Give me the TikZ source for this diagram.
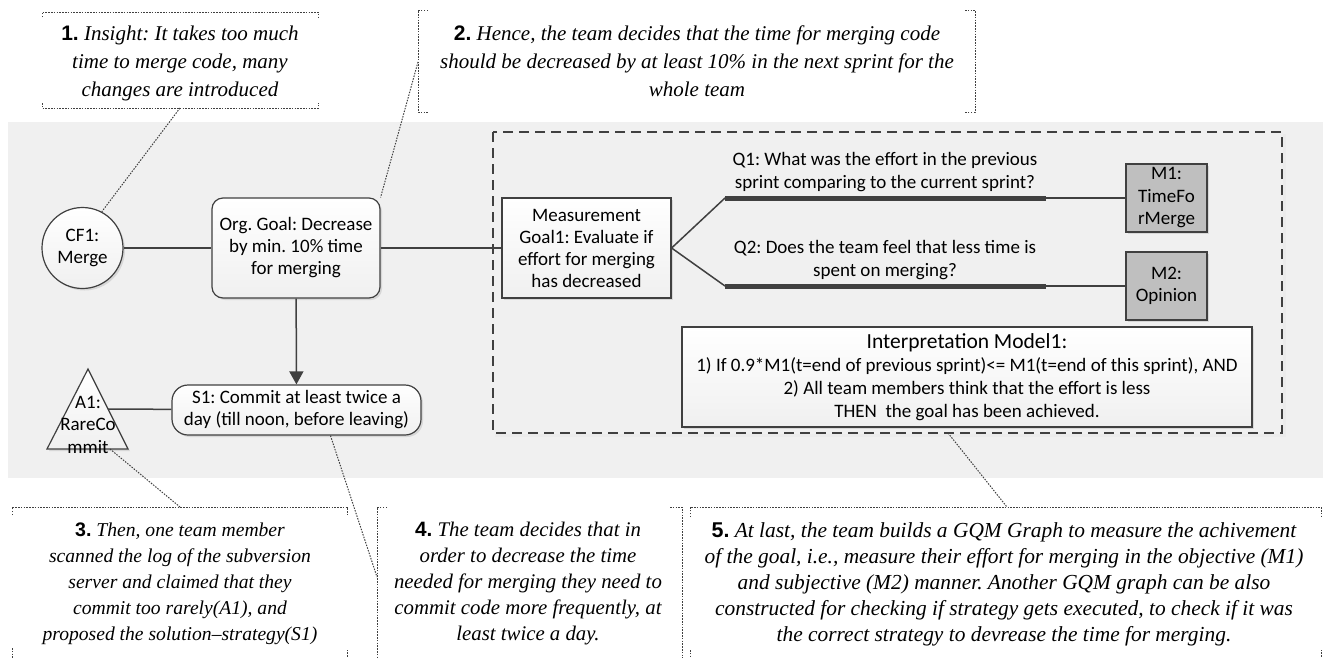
\documentclass[tikz,border=0pt]{standalone}
\usepackage{fontspec}
\setmainfont{Carlito}
\newfontfamily\tnr{Liberation Serif}
\newfontfamily\numf{Liberation Sans}
\usetikzlibrary{arrows.meta,shadows}
\frenchspacing
\definecolor{ln}{RGB}{64,64,64}
\definecolor{panel}{RGB}{240,240,240}
\definecolor{mfill}{RGB}{191,191,191}
\newcommand{\nb}[1]{{\upshape\numf\bfseries #1.}\ }
\tikzset{
  shd/.style={drop shadow={shadow xshift=2pt,shadow yshift=-2pt,opacity=0.22}},
  nbox/.style={draw=ln, line width=1.2pt, top color=white, bottom color=black!6, shd,
    align=center, inner sep=0pt, font=\fontsize{19}{22}\selectfont},
  mbox/.style={draw=ln, line width=1.2pt, fill=mfill, shd, align=center, inner sep=0pt,
    minimum width=81pt, minimum height=68pt, font=\fontsize{19}{22.5}\selectfont},
  conn/.style={draw=ln, line width=1.5pt},
  bar/.style={draw=ln, line width=5pt},
  note/.style={draw=ln, line width=1pt, dash pattern=on 1.5pt off 1.3pt},
  ntext/.style={align=center, inner sep=0pt, font=\tnr\itshape\fontsize{21}{28}\selectfont},
  btext/.style={align=center, inner sep=0pt, font=\tnr\itshape\fontsize{#1}{26}\selectfont},
  qtext/.style={align=center, inner sep=0pt, font=\fontsize{19}{23}\selectfont}
}
\begin{document}
\begin{tikzpicture}[x=1pt,y=-1pt]
\useasboundingbox (0,0) rectangle (1323,657);
\clip (0,0) rectangle (1323,657);
\fill[white] (0,0) rectangle (1323,657);
% grey panel
\fill[panel] (8,122) rectangle (1323,478);
% dashed measurement frame
\draw[black!8, line width=3pt] (495,435) -- (1284,435) -- (1284,134);
\draw[ln, line width=1.5pt, dash pattern=on 10pt off 6pt] (493,132) rectangle (1282,433);

% nodes
\node[nbox, circle, minimum size=81pt] (CF1) at (82.5,248) {CF1:\\Merge};
\node[nbox, rounded corners=11pt, minimum width=168pt, minimum height=100pt] (OG) at (296,248)
  {Org. Goal: Decrease\\by min. 10\% time\\for merging};
\node[nbox, rounded corners=16pt, minimum width=249pt, minimum height=50pt] (S1) at (296.5,410)
  {S1: Commit at least twice a\\day (till noon, before leaving)};
\draw[ln, line width=1.2pt, top color=white, bottom color=black!6, shd]
  (88,369) -- (128,449) -- (47,449) -- cycle;
\node[align=center, inner sep=0pt, font=\fontsize{19}{22.5}\selectfont] (A1) at (88,424.5) {A1:\\RareCo\\mmit};
\coordinate (A1r) at (108,409);
\coordinate (A1b) at (110,449);

\node[nbox, minimum width=169pt, minimum height=100pt] (MG) at (586.5,248)
  {Measurement\\Goal1: Evaluate if\\effort for merging\\has decreased};
\node[qtext] (Q1) at (885,172) {Q1: What was the effort in the previous\\sprint comparing to the current sprint?};
\node[qtext] (Q2) at (885,260) {Q2: Does the team feel that less time is\\spent on merging?};
\coordinate (q1a) at (725,198);
\coordinate (q1b) at (1046,198);
\coordinate (q2a) at (725,286);
\coordinate (q2b) at (1046,286);
\node[mbox] (M1) at (1166.5,198) {M1:\\TimeFo\\rMerge};
\node[mbox] (M2) at (1166.5,286) {M2:\\Opinion};
\node[nbox, minimum width=570pt, minimum height=100pt, font=\fontsize{19}{23}\selectfont] (IM) at (967,377)
  {{\fontsize{21.5}{23}\selectfont Interpretation Model1:}\\
   1) If 0.9*M1(t=end of previous sprint)<= M1(t=end of this sprint), AND\\
   2) All team members think that the effort is less\\
   THEN\ \ the goal has been achieved.};

% connectors
\draw[conn] (CF1) -- (OG);
\draw[conn] (OG) -- (MG);
\draw[conn, -{Triangle[length=13pt,width=14pt]}] (OG) -- (S1);
\draw[conn] (S1) -- (A1r);
\draw[conn] (MG.east) -- (q1a);
\draw[conn] (MG.east) -- (q2a);
\draw[bar] (q1a) -- (q1b);
\draw[bar] (q2a) -- (q2b);
\draw[ln, line width=1.2pt] (q1b) -- (M1);
\draw[ln, line width=1.2pt] (q2b) -- (M2);

% annotation texts
\node[ntext] (N1) at (180,63) {\nb{1}Insight: It takes too much\\time to merge code, many\\changes are introduced};
\node[ntext] (N2) at (697,61) {\nb{2}Hence, the team decides that the time for merging code\\should be decreased by at least 10\% in the next sprint for the\\whole team};
\node[btext=19.6] (N3) at (180,584) {\nb{3}Then, one team member\\scanned the log of the subversion\\server and claimed that they\\commit too rarely(A1), and\\proposed the solution–strategy(S1)};
\node[btext=20.8] (N4) at (528,584) {\nb{4}The team decides that in\\order to decrease the time\\needed for merging they need to\\commit code more frequently, at\\least twice a day.};
\node[btext=21.4] (N5) at (1004,584) {\nb{5}At last, the team builds a GQM Graph to measure the achivement\\of the goal, i.e., measure their effort for merging in the objective (M1)\\and subjective (M2) manner. Another GQM graph can be also\\constructed for checking if strategy gets executed, to check if it was\\the correct strategy to devrease the time for merging.};

% brackets
\draw[note] (42,17) -- (42,12) -- (318,12) -- (318,17);
\draw[note] (42,103) -- (42,108) -- (318,108) -- (318,103);
\draw[note] (428,10) -- (418,10) -- (418,112) -- (428,112);
\draw[note] (965,10) -- (975,10) -- (975,112) -- (965,112);
\draw[note] (12,515) -- (12,507) -- (347,507) -- (347,515);
\draw[note] (12,648) -- (12,664) -- (347,664) -- (347,650);
\draw[note] (387,507) -- (377,507) -- (377,670);
\draw[note] (670,507) -- (682,507) -- (682,670);
\draw[note] (690,517) -- (690,507) -- (1321,507) -- (1321,517);
\draw[note] (690,650) -- (690,664) -- (1321,664) -- (1321,650);

% annotation connectors
\coordinate (b1) at (180,108);
\coordinate (b2) at (418,62);
\coordinate (b3) at (180,507);
\coordinate (b4) at (377,577);
\coordinate (b5) at (1007,507);
\coordinate (d5) at (948,433);
\draw[note] (b1) -- (CF1.62);
\draw[note] (b2) -- (OG.north east);
\draw[note] (A1b) -- (b3);
\draw[note] (S1.-37) -- (b4);
\draw[note] (d5) -- (b5);
\end{tikzpicture}
\end{document}
